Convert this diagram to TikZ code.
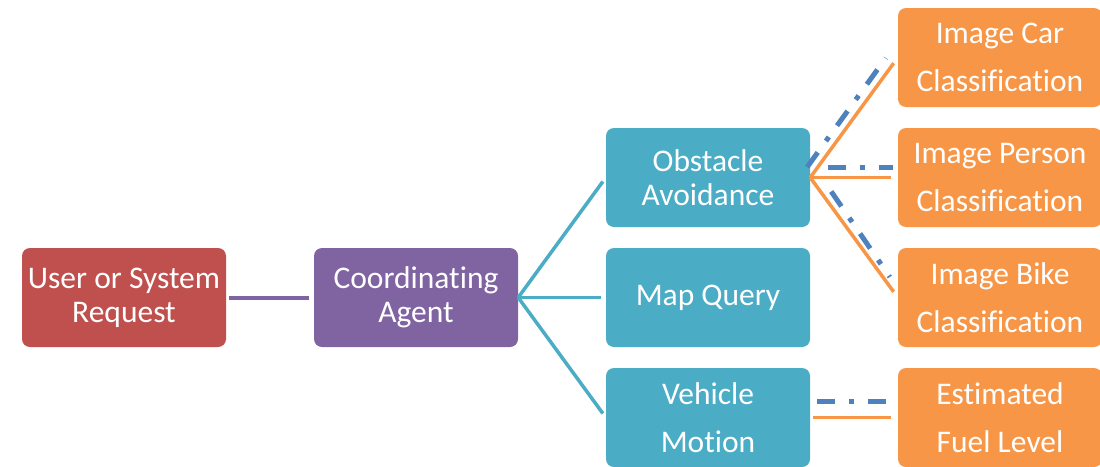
\documentclass[tikz,border=0pt]{standalone}
\usepackage{fontspec}
\setmainfont[Ligatures=NoCommon]{Carlito}
\usetikzlibrary{positioning}

\definecolor{reqred}{HTML}{C0504D}
\definecolor{agentpurple}{HTML}{8064A2}
\definecolor{taskteal}{HTML}{4BACC6}
\definecolor{clsorange}{HTML}{F79646}
\definecolor{linkblue}{HTML}{4F81BD}

\tikzset{
  box/.style={rectangle, rounded corners=8pt, minimum width=204pt, minimum height=99pt,
    inner sep=2pt, align=center, text=white, font=\fontsize{31.5}{34}\selectfont},
  loose/.style={font=\fontsize{31.5}{48}\selectfont},
  reqbox/.style={box, fill=reqred},
  agentbox/.style={box, fill=agentpurple},
  taskbox/.style={box, fill=taskteal},
  clsbox/.style={box, loose, fill=clsorange},
  reqline/.style={draw=agentpurple, line width=4pt, shorten <=3pt, shorten >=5pt},
  taskline/.style={draw=taskteal, line width=3.5pt, shorten >=5pt},
  clsline/.style={draw=clsorange, line width=3.5pt, shorten >=7pt},
  dashline/.style={draw=linkblue, line width=5pt, dash pattern=on 18pt off 14pt on 5pt off 14pt}
}

\begin{document}
\begin{tikzpicture}[node distance=120pt and 292pt,on grid]
   \useasboundingbox (0,0) rectangle (1100pt,-466pt);

   \node[reqbox] (req) at (124pt,-297.5pt) {User or System\\Request};
   \node[agentbox] (agent) [right=of req] {Coordinating\\Agent};
   \node[taskbox] (map) [right=of agent] {Map Query};
   \node[taskbox] (obs) [above=of map] {Obstacle\\Avoidance};
   \node[taskbox, loose] (veh) [below=of map] {Vehicle\\Motion};
   \node[clsbox] (person) [right=of obs] {Image Person\\Classification};
   \node[clsbox] (car) [above=of person] {Image Car\\Classification};
   \node[clsbox] (bike) [below=of person] {Image Bike\\Classification};
   \node[clsbox] (fuel) [right=of veh] {Estimated\\Fuel Level};

    \path[reqline] (req) edge (agent);

    \path[taskline] (agent.east) edge (obs.west);
    \path[taskline] (agent.east) edge (map.west);
    \path[taskline] (agent.east) edge (veh.west);

    \path[clsline] (obs.east) edge (car.west);
    \path[clsline] (obs.east) edge (person.west);
    \path[clsline] (obs.east) edge (bike.west);
    \path[clsline] ([xshift=3pt]veh.east) edge (fuel.west);

    % dash-dot links drawn over the orange ones
    \path[dashline] ([shift={(-3pt,10.5pt)}]obs.east) edge ([shift={(-12pt,-0.5pt)}]car.west);
    \path[dashline] ([shift={(18pt,10pt)}]obs.east) edge ([shift={(-5pt,10pt)}]person.west);
    \path[dashline] ([shift={(21pt,-14pt)}]obs.east) edge ([shift={(-8pt,20.5pt)}]bike.west);
    \path[dashline] ([shift={(7pt,16.5pt)}]veh.east) edge ([shift={(-7pt,16.5pt)}]fuel.west);
\end{tikzpicture}
\end{document}
